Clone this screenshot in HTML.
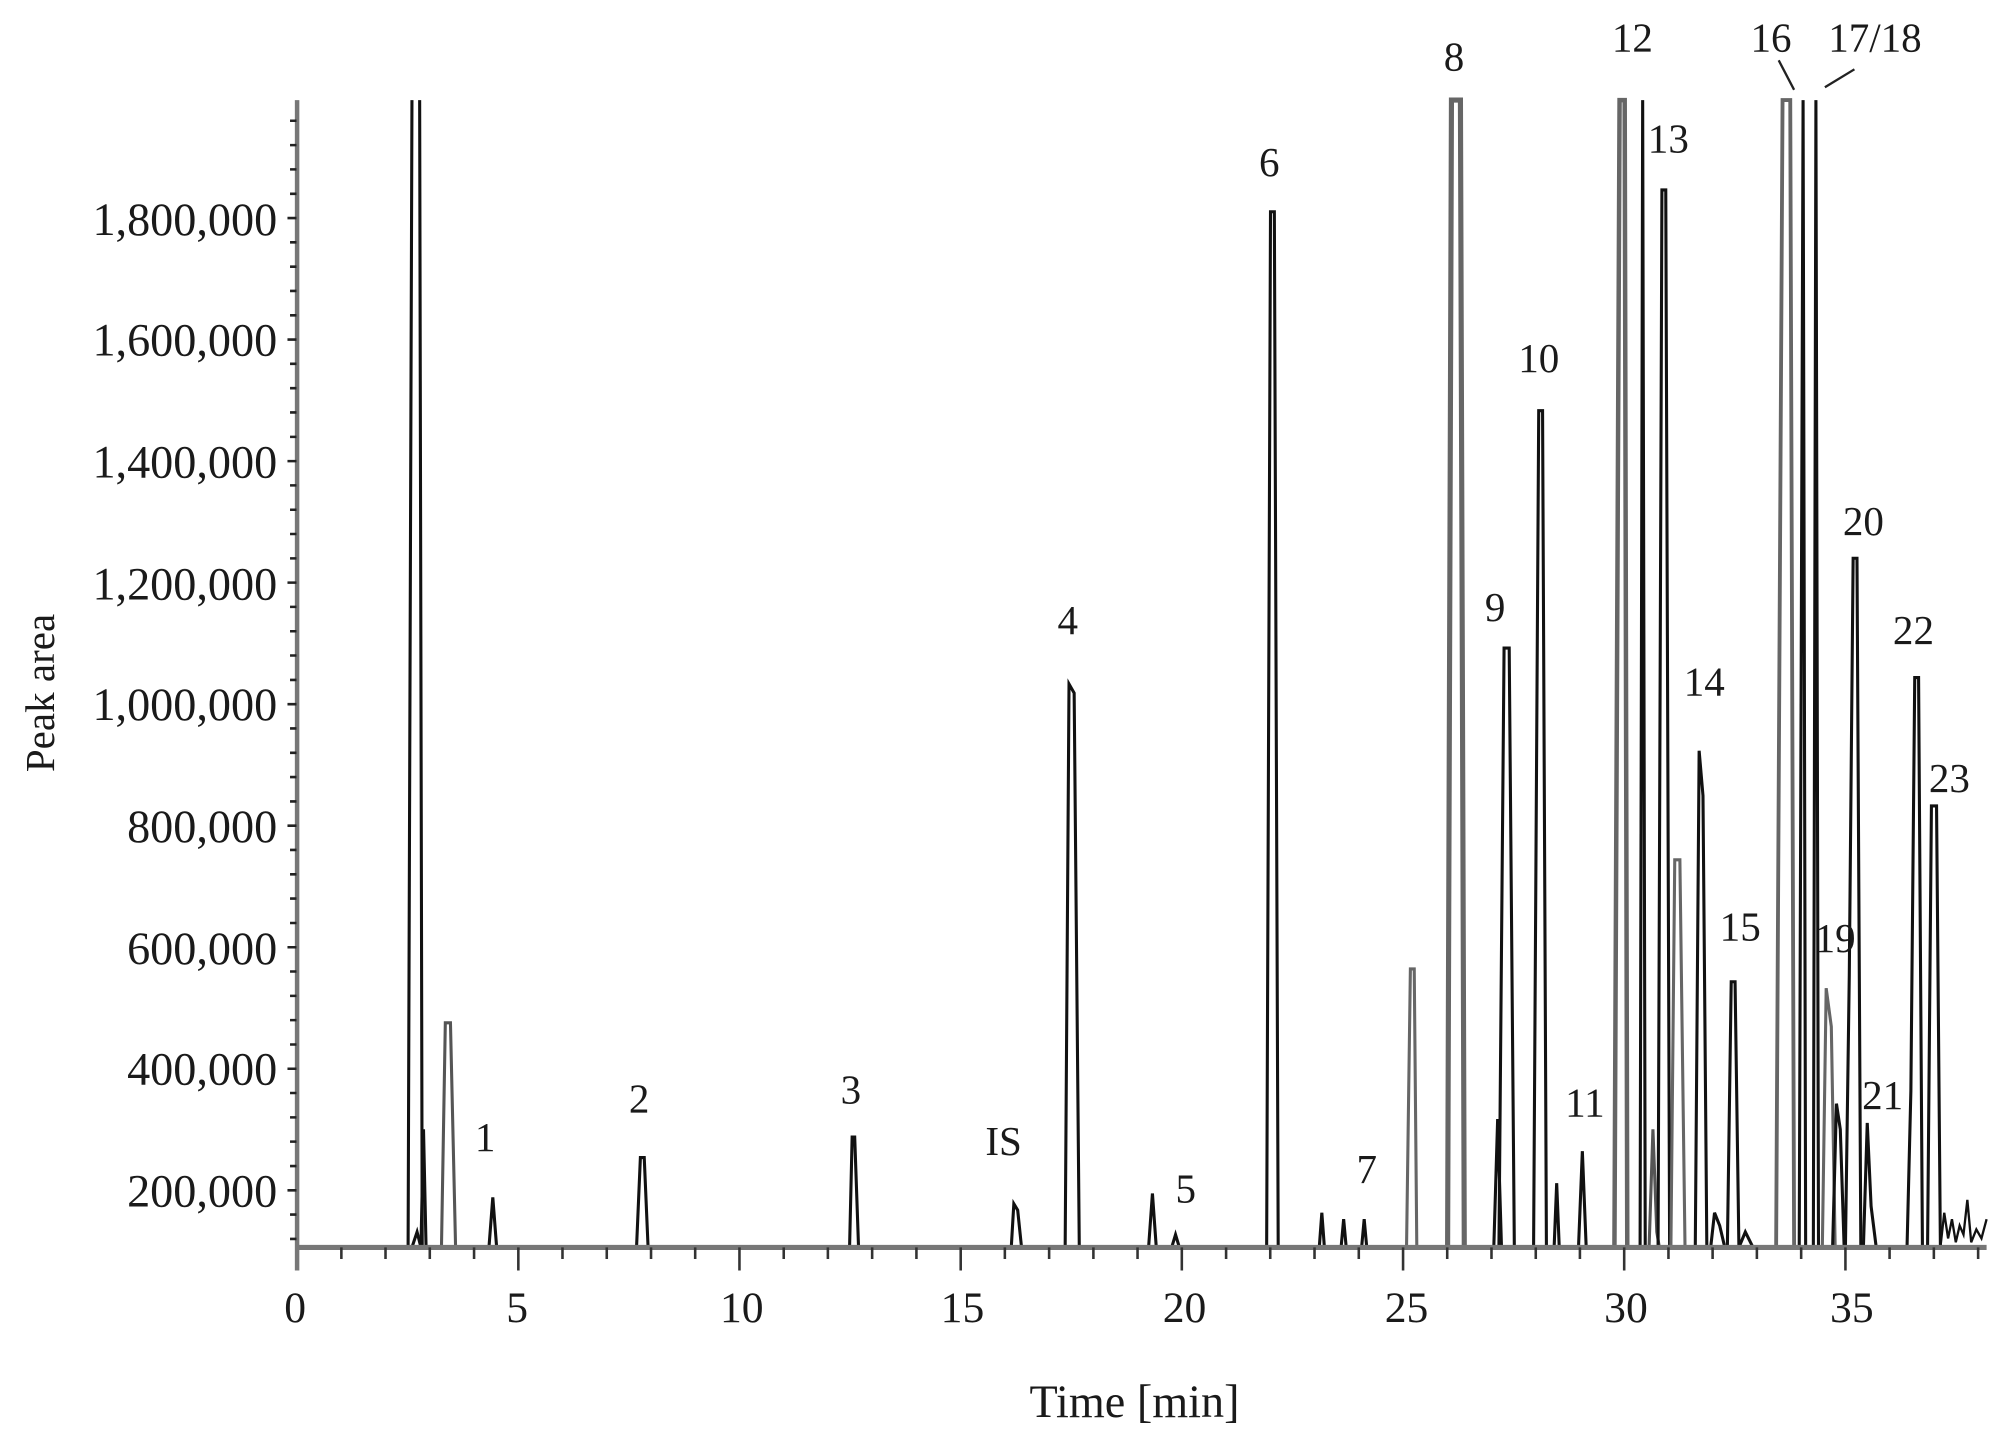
<!DOCTYPE html>
<html><head><meta charset="utf-8"><style>
html,body{margin:0;padding:0;background:#fff;}
svg{display:block;}
text{font-family:"Liberation Serif",serif;fill:#1a1a1a;}
</style></head><body>
<svg width="2002" height="1439" viewBox="0 0 1560 1121.3" xmlns="http://www.w3.org/2000/svg">
<rect width="1560" height="1121.3" fill="#fff"/>
<!-- peaks -->
<g fill="none" stroke-width="2.4" stroke-linejoin="miter">
<path stroke="#111" d="M318,972L321,78M327,78L329,972M321,972L325,960L328,972"/>
<path stroke="#111" d="M328,972L330,880L332,972"/>
<path stroke="#555" d="M344,972L347,797L351,797L355,972"/>
<path stroke="#111" d="M381,972L384,933L387,972"/>
<path stroke="#111" d="M496,972L499,902L502,902L505,972"/>
<path stroke="#111" d="M662,972L664,886L666,886L669,972"/>
<path stroke="#111" d="M788,972L790,938L793,943L796,972"/>
<path stroke="#111" d="M830,972L833,533L837,540L841,972"/>
<path stroke="#111" d="M895,972L898,930L901,972"/>
<path stroke="#111" d="M913,972L916,962L919,972"/>
<path stroke="#111" d="M987,972L990,165L993,165L996,972"/>
<path stroke="#111" d="M1028,972L1030,945L1032,972M1045,972L1047,950L1049,972M1061,972L1063,950L1065,972"/>
<path stroke="#666" d="M1096,972L1099,755L1102,755L1104,972"/>
<path stroke="#666" stroke-width="4" d="M1128,972L1131,78L1138,78L1141,972"/>
<path stroke="#111" d="M1164,972L1167,872L1170,972M1168,972L1172,505L1176,505L1180,972"/>
<path stroke="#111" d="M1195,972L1199,320L1202,320L1205,972"/>
<path stroke="#111" d="M1211,972L1213,922L1215,972M1230,972L1233,897L1236,972"/>
<path stroke="#666" stroke-width="3.5" d="M1258,972L1262,78L1266,78L1268,972"/>
<path stroke="#111" d="M1278,972L1280,78L1282,972"/>
<path stroke="#555" d="M1285,972L1288,880L1291,960L1293,972"/>
<path stroke="#111" d="M1292,972L1295,148L1298,148L1301,972"/>
<path stroke="#666" d="M1302,972L1305,670L1309,670L1313,972"/>
<path stroke="#111" d="M1321,972L1324,585L1327,620L1330,972"/>
<path stroke="#111" d="M1333,972L1336,945L1340,955L1344,972"/>
<path stroke="#111" d="M1346,972L1349,765L1352,765L1355,972M1355,972L1360,960L1366,972"/>
<path stroke="#666" stroke-width="3" d="M1384,972L1389,78L1395,78L1398,972"/>
<path stroke="#111" d="M1402,972L1405,78L1407,972M1413,972L1415,78L1417,972"/>
<path stroke="#666" d="M1420,972L1423,770L1427,800L1430,972"/>
<path stroke="#111" d="M1428,972L1431,860L1434,880L1437,972"/>
<path stroke="#111" d="M1438,972L1441,760L1444,435L1447,435L1450,972"/>
<path stroke="#111" d="M1452,972L1455,875L1458,940L1462,972"/>
<path stroke="#111" d="M1486,972L1489,850L1492,528L1495,528L1498,972"/>
<path stroke="#111" d="M1502,972L1505,628L1509,628L1512,972"/>
<path stroke="#111" stroke-width="1.8" d="M1512,972L1515,945L1518,965L1521,950L1524,968L1527,955L1530,962L1533,935L1536,968L1540,958L1544,965L1548,950"/>
</g>
<!-- x axis -->
<line x1="231.5" y1="972" x2="1548" y2="972" stroke="#777" stroke-width="4"/>
<g stroke="#333" stroke-width="2">
<path d="M231.5,972V990M266,972V981M300.4,972V981M334.9,972V981M369.4,972V981M403.9,972V990M438.3,972V981M472.8,972V981M507.3,972V981M541.7,972V981M576.2,972V990M610.7,972V981M645.1,972V981M679.6,972V981M714.1,972V981M748.6,972V990M783,972V981M817.5,972V981M852,972V981M886.4,972V981M920.9,972V990M955.4,972V981M989.8,972V981M1024.3,972V981M1058.8,972V981M1093.3,972V990M1127.7,972V981M1162.2,972V981M1196.7,972V981M1231.1,972V981M1265.6,972V990M1300.1,972V981M1334.5,972V981M1369,972V981M1403.5,972V981M1438,972V990M1472.4,972V981M1506.9,972V981M1541.4,972V981"/>
</g>
<!-- y axis -->
<line x1="231.5" y1="78" x2="231.5" y2="990" stroke="#777" stroke-width="3.5"/>
<g stroke="#222" stroke-width="2">
<path d="M226,965.4H231M226,946.4H231M224,927.5H231M226,908.6H231M226,889.6H231M226,870.7H231M226,851.7H231M224,832.8H231M226,813.9H231M226,794.9H231M226,776H231M226,757H231M224,738.1H231M226,719.2H231M226,700.2H231M226,681.3H231M226,662.3H231M224,643.4H231M226,624.5H231M226,605.5H231M226,586.6H231M226,567.6H231M224,548.7H231M226,529.8H231M226,510.8H231M226,491.9H231M226,472.9H231M224,454H231M226,435.1H231M226,416.1H231M226,397.2H231M226,378.2H231M224,359.3H231M226,340.4H231M226,321.4H231M226,302.5H231M226,283.5H231M224,264.6H231M226,245.7H231M226,226.7H231M226,207.8H231M226,188.8H231M224,169.9H231M226,151H231M226,132H231M226,113.1H231M226,94.1H231"/>
</g>
<g font-size="36" text-anchor="end">
<text x="216" y="940">200,000</text>
<text x="216" y="845">400,000</text>
<text x="216" y="751">600,000</text>
<text x="216" y="656">800,000</text>
<text x="216" y="561">1,000,000</text>
<text x="216" y="467">1,200,000</text>
<text x="216" y="372">1,400,000</text>
<text x="216" y="277">1,600,000</text>
<text x="216" y="183">1,800,000</text>
</g>
<g font-size="34" text-anchor="middle">
<text x="230" y="1030">0</text>
<text x="403" y="1030">5</text>
<text x="578" y="1030">10</text>
<text x="750" y="1030">15</text>
<text x="923" y="1030">20</text>
<text x="1096" y="1030">25</text>
<text x="1267" y="1030">30</text>
<text x="1443" y="1030">35</text>
</g>
<text x="884" y="1104" font-size="36" text-anchor="middle">Time [min]</text>
<text transform="translate(42,540) rotate(-90)" font-size="32" text-anchor="middle">Peak area</text>
<!-- peak labels -->
<g font-size="32" text-anchor="middle">
<text x="378" y="897">1</text>
<text x="498" y="867">2</text>
<text x="663" y="860">3</text>
<text x="782" y="900">IS</text>
<text x="832" y="494">4</text>
<text x="924" y="937">5</text>
<text x="989" y="137">6</text>
<text x="1065" y="922">7</text>
<text x="1133" y="55">8</text>
<text x="1165" y="484">9</text>
<text x="1199" y="290">10</text>
<text x="1235" y="870">11</text>
<text x="1272" y="40">12</text>
<text x="1300" y="119">13</text>
<text x="1328" y="542">14</text>
<text x="1356" y="733">15</text>
<text x="1380" y="40">16</text>
<text x="1461" y="40">17/18</text>
<text x="1430" y="742">19</text>
<text x="1452" y="417">20</text>
<text x="1467" y="864">21</text>
<text x="1491" y="502">22</text>
<text x="1519" y="617">23</text>
</g>
<path d="M1386,47L1398,70M1445,54L1422,68" stroke="#222" stroke-width="1.8"/>
</svg>
</body></html>
